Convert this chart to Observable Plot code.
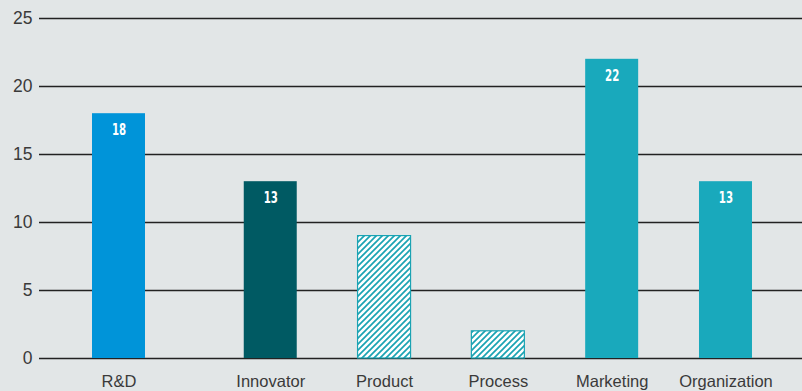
<!DOCTYPE html>
<html>
<head>
<meta charset="utf-8">
<script src="https://cdn.jsdelivr.net/npm/d3@7"></script>
<script src="https://cdn.jsdelivr.net/npm/@observablehq/plot@0.6"></script>
<style>
  html, body { margin: 0; padding: 0; background: #e2e6e7; }
  #chart svg { display: block; background: #e2e6e7; }
</style>
</head>
<body>
<svg width="0" height="0" style="position:absolute">
  <defs>
    <pattern id="hatch" patternUnits="userSpaceOnUse" width="6" height="6">
      <rect width="6" height="6" fill="#ffffff"></rect>
      <path d="M-1,1 l2,-2 M0,6 l6,-6 M5,7 l2,-2" stroke="#1aa3b3" stroke-width="1.7"></path>
    </pattern>
  </defs>
</svg>
<div id="chart"></div>
<script>
// ---- data ----
const categories = ["R&D", "Innovator", "Product", "Process", "Marketing", "Organization"];
const values = [18, 13, 9, 2, 22, 13];
const showLabel = [true, true, false, false, true, true];
const yTicks = [0, 5, 10, 15, 20, 25];

// ---- styles (kept apart from data) ----
const fills = {
  "R&D": "#0094d9",
  "Innovator": "#005a63",
  "Product": "url(#hatch)",
  "Process": "url(#hatch)",
  "Marketing": "#19a9bc",
  "Organization": "#19a9bc"
};
const groupGap = 1 / 3;   // extra space after the first bar
const halfWidth = 0.2328; // half bar width in slot units

const rows = categories.map((c, i) => ({
  name: c,
  value: values[i],
  label: showLabel[i],
  slot: i + (i > 0 ? groupGap : 0)
}));

const chart = Plot.plot({
  width: 802,
  height: 391,
  marginTop: 18,
  marginBottom: 33,
  marginLeft: 39,
  marginRight: 0,
  style: { background: "#e2e6e7", fontFamily: "'Liberation Sans', Arial, sans-serif" },
  x: { type: "linear", domain: [-0.6985, 6.0056], axis: null },
  y: { domain: [0, 25], axis: null },
  marks: [
    Plot.ruleY(yTicks, { stroke: "#222", strokeWidth: 1.5 }),
    Plot.axisY(yTicks, {
      tickSize: 0, tickPadding: 7, fontSize: 17.5, label: null,
      color: "#3a3a3a"
    }),
    Plot.rectY(rows, {
      x1: d => d.slot - halfWidth,
      x2: d => d.slot + halfWidth,
      y1: 0,
      y2: "value",
      fill: d => fills[d.name],
      stroke: d => fills[d.name].startsWith("url") ? "#1aa3b3" : "none",
      strokeWidth: 1.2
    }),
    Plot.text(rows.filter(d => d.label), {
      x: "slot", y: "value", text: d => String(d.value),
      dy: 16, fill: "white", fontWeight: "bold", fontSize: 16.5,
      fontFamily: "'DejaVu Sans', sans-serif",
      className: "vlabel"
    }),
    Plot.text(rows, {
      x: "slot", y: 0, text: "name", dy: 23, fontSize: 16.5, fill: "#3a3a3a"
    })
  ]
});
document.getElementById("chart").appendChild(chart);

// narrow the value labels to a condensed look
d3.select(chart).selectAll(".vlabel text").each(function () {
  const b = this.getBBox();
  const cx = b.x + b.width / 2;
  const t = this.getAttribute("transform") || "";
  this.setAttribute("transform", `${t} translate(${cx},0) scale(0.62,1) translate(${-cx},0)`);
});
</script>
</body>
</html>
